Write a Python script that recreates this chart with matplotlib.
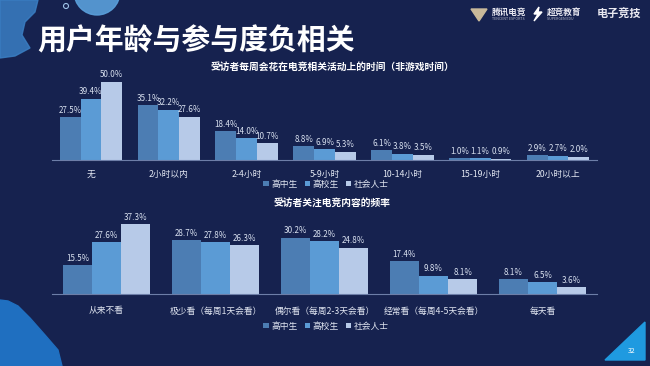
import matplotlib
matplotlib.use("Agg")
import matplotlib.pyplot as plt
import numpy as np
from matplotlib.patches import Circle, Polygon

plt.rcParams['font.family'] = ['Noto Sans CJK SC', 'DejaVu Sans']

W, H = 650, 366
BG = '#16224f'

series = ['高中生', '高校生', '社会人士']
colors = ['#4c7db3', '#5b9bd5', '#b7cae8']

cats1 = ['无', '2小时以内', '2-4小时', '5-9小时', '10-14小时', '15-19小时', '20小时以上']
hs1 = [27.5, 35.1, 18.4, 8.8, 6.1, 1.0, 2.9]
col1 = [39.4, 32.2, 14.0, 6.9, 3.8, 1.1, 2.7]
soc1 = [50.0, 27.6, 10.7, 5.3, 3.5, 0.9, 2.0]

cats2 = ['从来不看', '极少看（每周1天会看）', '偶尔看（每周2-3天会看）', '经常看（每周4-5天会看）', '每天看']
hs2 = [15.5, 28.7, 30.2, 17.4, 8.1]
col2 = [27.6, 27.8, 28.2, 9.8, 6.5]
soc2 = [37.3, 26.3, 24.8, 8.1, 3.6]

title = '用户年龄与参与度负相关'
sub1 = '受访者每周会花在电竞相关活动上的时间（非游戏时间）'
sub2 = '受访者关注电竞内容的频率'

fig = plt.figure(figsize=(6.5, 3.66), dpi=100)
fig.patch.set_facecolor(BG)

# background decoration axes
bg = fig.add_axes([0, 0, 1, 1])
bg.set_xlim(0, W); bg.set_ylim(H, 0); bg.axis('off')
bg.add_patch(Polygon([(0, 0), (38, 0), (35, 12), (25, 22), (22, 35), (30, 48), (15, 56), (0, 58)],
                     closed=True, color='#3a7fc4', alpha=0.85))
bg.add_patch(Circle((97, -8), 23, color='#5aa0dc', alpha=0.9))
bg.add_patch(Circle((66, 6), 2.5, fill=False, ec='#9fc3e8', lw=0.8))
bg.add_patch(Polygon([(0, 300), (8, 301), (18, 306), (30, 318), (45, 335), (58, 350), (62, 366), (0, 366)],
                     closed=True, color='#1f6fc0'))
bg.add_patch(Polygon([(605, 360), (645, 322), (645, 360)], closed=True, color='#1f9ae0'))
bg.text(632, 351, '32', color='white', fontsize=5, ha='center', va='center')
bg.text(37, 40, title, color='white', fontsize=20.8, fontweight='bold', ha='left', va='center')
# logos as text
bg.add_patch(Polygon([(471, 9), (487, 9), (479, 21)], closed=True, color='#c9b99a'))
bg.text(492, 12, '腾讯电竞', color='#e8e8f0', fontsize=6.2, fontweight='bold', ha='left', va='center')
bg.text(492, 19.5, 'TENCENT ESPORTS', color='#b8bccc', fontsize=2.6, ha='left', va='center')
bg.add_patch(Polygon([(539, 7), (534, 14), (538, 14), (534, 21), (542, 12), (538, 12)], closed=True, color='white'))
bg.text(547, 12, '超竞教育', color='#e8e8f0', fontsize=6.2, fontweight='bold', ha='left', va='center')
bg.text(547, 19.5, 'SUPERGEN EDU', color='#b8bccc', fontsize=2.6, ha='left', va='center')
bg.text(597, 14, '电子竞技', color='#e8e8f0', fontsize=8, fontweight='bold', fontstyle='italic', ha='left', va='center')


def fy(ypx):
    return (H - ypx) / H


def make_chart(cats, vals, left, right, base, top, ymax, sub, sub_y, lab_y, leg_y):
    ax = fig.add_axes([left / W, fy(base), (right - left) / W, (base - top) / H])
    ax.set_facecolor('none')
    n = len(cats)
    x = np.arange(n)
    bw = 0.267
    for i, (v, c) in enumerate(zip(vals, colors)):
        pos = x + (i - 1) * bw
        ax.bar(pos, v, width=bw, color=c, label=series[i], zorder=2)
        for p, val in zip(pos, v):
            ax.text(p, val + ymax * 0.03, f'{val:.1f}%', ha='center', va='bottom',
                    color='#d8e0ef', fontsize=5.8, clip_on=False)
    ax.set_xlim(-0.5, n - 0.5)
    ax.set_ylim(0, ymax)
    for s in ['top', 'right', 'left']:
        ax.spines[s].set_visible(False)
    ax.spines['bottom'].set_color('#6d7ea8')
    ax.spines['bottom'].set_linewidth(0.8)
    ax.set_yticks([])
    ax.set_xticks(x)
    ax.set_xticklabels(cats, color='#e2e7f2', fontsize=6.3)
    ax.tick_params(axis='x', length=0, pad=(lab_y - base) - 5)
    fig.text(0.5 * (left + right) / W + 0.012, fy(sub_y), sub, color='white', fontsize=7,
             fontweight='bold', ha='center', va='center')
    ax.legend(loc='center', bbox_to_anchor=(326 / W, fy(leg_y)), bbox_transform=fig.transFigure,
              ncol=3, frameon=False, fontsize=6.3, handlelength=0.6, handleheight=0.6,
              handletextpad=0.3, columnspacing=0.8, labelcolor='#e2e7f2')
    return ax


make_chart(cats1, [hs1, col1, soc1], 52, 597, 160, 160 - 1.56 * 55, 55, sub1, 67, 172, 184)
make_chart(cats2, [hs2, col2, soc2], 52, 597, 294, 294 - 1.87 * 40, 40, sub2, 203, 308, 326)

fig.savefig('out.png', dpi=100, facecolor=BG)
